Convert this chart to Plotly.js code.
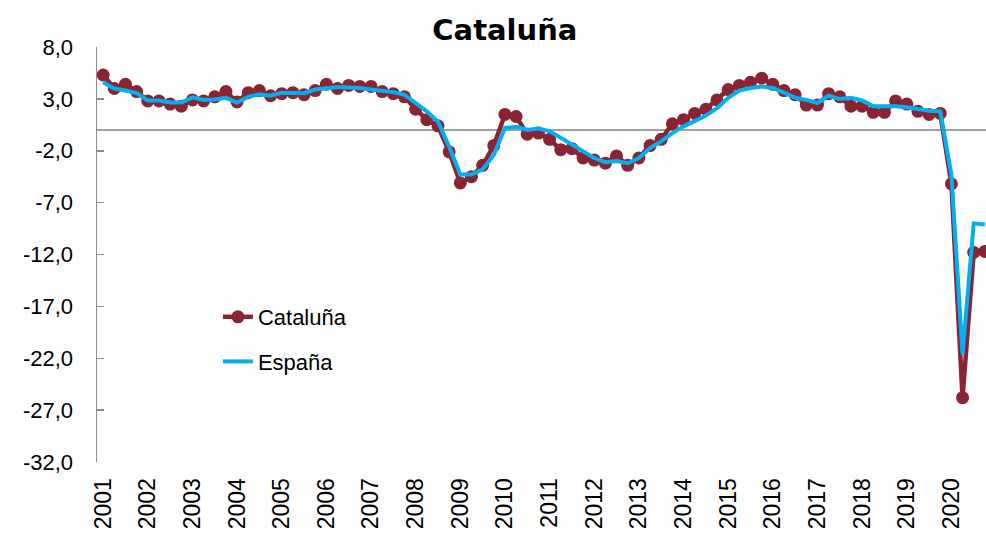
<!DOCTYPE html>
<html>
<head>
<meta charset="utf-8">
<script src="https://cdn.plot.ly/plotly-3.0.1.min.js"></script>
<style>
  html, body { margin: 0; padding: 0; background: #fff; }
  #chart { width: 986px; height: 547px; }
</style>
</head>
<body>
<div id="chart"></div>
<script>
// Year-on-year GDP growth (%), quarterly, 2001Q1 .. 2020Q4
const years = ['2001', '2002', '2003', '2004', '2005', '2006', '2007', '2008', '2009', '2010',
               '2011', '2012', '2013', '2014', '2015', '2016', '2017', '2018', '2019', '2020'];

const yTicks = [8, 3, -2, -7, -12, -17, -22, -27, -32];

const cataluna = [
    5.3, 4.0, 4.4, 3.7,   2.8, 2.8, 2.5, 2.3,   2.9, 2.8, 3.2, 3.7,   2.7, 3.6, 3.8, 3.3,
    3.5, 3.6, 3.4, 3.8,   4.4, 4.0, 4.3, 4.2,   4.2, 3.7, 3.5, 3.2,   2.0, 1.0, 0.4, -2.1,
    -5.1, -4.5, -3.4, -1.5,   1.5, 1.3, -0.4, -0.3,   -0.9, -1.9, -1.8, -2.7,   -2.9, -3.2, -2.5, -3.4,
    -2.7, -1.5, -0.9, 0.6,   1.0, 1.6, 2.0, 2.9,   3.9, 4.3, 4.6, 5.0,   4.4, 3.8, 3.4, 2.4,
    2.4, 3.5, 3.2, 2.3,   2.3, 1.7, 1.7, 2.8,   2.5, 1.8, 1.5, 1.6,   -5.2, -25.8, -11.8, -11.7
];

const espana = [
    4.6, 4.0, 3.8, 3.55,   2.85, 2.85, 2.65, 2.65,   3.15, 2.9, 2.95, 3.1,   2.65, 3.2, 3.45, 3.3,
    3.6, 3.55, 3.55, 3.9,   4.05, 4.15, 4.1, 4.05,   3.9, 3.8, 3.65, 3.4,   2.6, 1.8, 0.8, -1.6,
    -4.3, -4.3, -3.8, -2.4,   0.2, 0.3, 0.0, 0.15,   -0.1, -0.75, -1.4, -2.05,   -2.7, -3.1, -3.0, -3.2,
    -2.7, -1.75, -1.1, -0.3,   0.35, 0.85, 1.4, 2.1,   3.1, 3.8, 4.05, 4.2,   4.05, 3.6, 3.1, 2.9,
    2.6, 3.3, 3.0, 3.1,   2.85, 2.3, 2.3, 2.3,   2.2, 2.0, 1.85, 1.8,   -4.3, -21.6, -9.0, -9.1
];

const quarterIdx = cataluna.map((_, i) => i);
const yearTicks = years.map((_, i) => i * 4);
// Spanish style labels with a plain hyphen: "-12,0"
const yTickText = yTicks.map(v => v.toFixed(1).replace('.', ','));

const FONT = 'Liberation Sans, Arial, sans-serif';

const data = [
    {
        x: quarterIdx,
        y: cataluna,
        name: 'Cataluña',
        legendgroup: 'cat',
        type: 'scatter',
        mode: 'lines+markers',
        line: { color: '#8A2433', width: 4.5 },
        marker: { color: '#8A2433', size: 13 },
        cliponaxis: false
    },
    {
        x: quarterIdx,
        y: espana,
        name: 'España',
        legendgroup: 'esp',
        type: 'scatter',
        mode: 'lines',
        line: { color: '#00B0F0', width: 4 }
    }
];

const layout = {
    width: 986,
    height: 547,
    paper_bgcolor: '#fff',
    plot_bgcolor: '#fff',
    font: { family: FONT, size: 22, color: '#000' },
    margin: { t: 47, r: 0, b: 85, l: 97 },
    title: {
        text: '<b>Cataluña</b>',
        font: { family: 'DejaVu Sans, sans-serif', size: 29, color: '#000' },
        x: 0.512,
        xanchor: 'center',
        y: 0.945,
        yanchor: 'middle'
    },
    xaxis: {
        range: [-0.55, 79.1],
        tickvals: yearTicks,
        ticktext: years,
        tickangle: -90,
        ticks: 'outside',
        ticklen: 6,
        tickcolor: 'rgba(0,0,0,0)',
        showgrid: false,
        zeroline: false,
        showline: false,
        tickfont: { family: FONT, size: 23 }
    },
    yaxis: {
        range: [-32, 8],
        tickvals: yTicks,
        ticktext: yTickText,
        ticks: 'inside',
        ticklen: 7,
        tickcolor: '#8C8C8C',
        tickwidth: 1.5,
        showline: true,
        linecolor: '#8C8C8C',
        linewidth: 1.5,
        showgrid: false,
        zeroline: true,
        zerolinecolor: '#A0A0A0',
        zerolinewidth: 2,
        ticklabelstandoff: 18,
        tickfont: { family: FONT, size: 22 }
    },
    showlegend: true,
    legend: {
        x: 0.136,
        xanchor: 'left',
        y: 0.4,
        yanchor: 'top',
        bgcolor: 'rgba(0,0,0,0)',
        traceorder: 'grouped',
        tracegroupgap: 13,
        font: { family: FONT, size: 22 }
    }
};

Plotly.newPlot('chart', data, layout, { displayModeBar: false, staticPlot: true });
</script>
</body>
</html>
